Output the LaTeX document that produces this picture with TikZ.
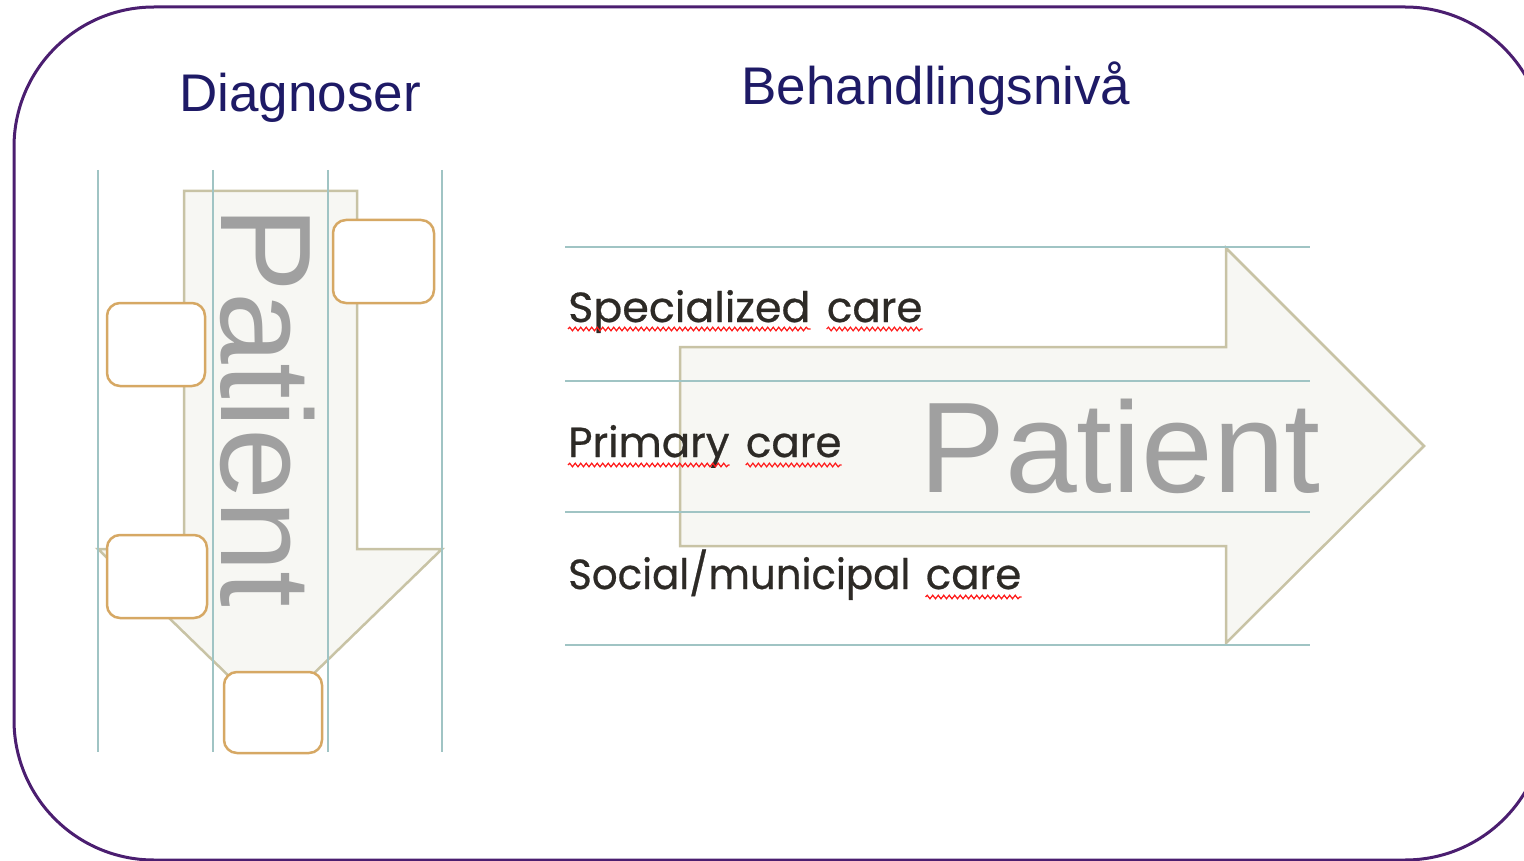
\documentclass[tikz,border=0pt]{standalone}
\usepackage{fontspec}
\setmainfont{Liberation Sans}
\newfontfamily\labelfont[FakeBold=0.6]{Poppins}
\usetikzlibrary{decorations.pathmorphing}
\definecolor{framec}{RGB}{75,30,112}
\definecolor{titlec}{RGB}{30,26,102}
\definecolor{gridc}{RGB}{160,196,196}
\definecolor{arrowfill}{RGB}{247,247,243}
\definecolor{arrowline}{RGB}{200,195,165}
\definecolor{boxc}{RGB}{214,168,100}
\definecolor{patientc}{RGB}{160,160,160}
\definecolor{labelc}{RGB}{45,42,38}
\tikzset{
  frameline/.style={draw=framec, line width=3pt, rounded corners=140pt},
  title/.style={text=titlec, font=\fontsize{53}{60}\selectfont, inner sep=0pt, anchor=base},
  gridline/.style={draw=gridc, line width=2pt},
  bigarrow/.style={draw=arrowline, fill=arrowfill, line width=2.5pt},
  slot/.style={draw=boxc, fill=white, line width=2.5pt, rounded corners=13pt, inner sep=0pt},
  patient/.style={text=patientc, font=\fontsize{129}{140}\selectfont, inner sep=0pt},
  level/.style={text=labelc, font=\labelfont\fontsize{42}{50}\selectfont, inner sep=0pt, anchor=base west},
  spell/.style={draw=red!90!white, line width=1.2pt, decorate, decoration={snake, amplitude=1.8pt, segment length=5.5pt}}
}
\begin{document}
\begin{tikzpicture}[x=1pt,y=-1pt]
\useasboundingbox (0,0) rectangle (1524,861);
\draw[frameline] (14,7) rectangle (1545,860);
% titles
\node[title] (diag) at (300,112) {Diagnoser};
\node[title] (beh) at (936,105) {Behandlingsniv\aa};
% left arrow
\draw[bigarrow] (184,191) -- (357,191) -- (357,549) -- (442,549) -- (270,716) -- (98,549) -- (184,549) -- cycle;
% right arrow
\draw[bigarrow] (680,347) -- (1226,347) -- (1226,248) -- (1424,446) -- (1226,643) -- (1226,546) -- (680,546) -- cycle;
% grid lines
\foreach \x in {98,213,328,442} \draw[gridline] (\x,170) -- (\x,752);
\foreach \y in {247,381,512,645} \draw[gridline] (565,\y) -- (1310,\y);
% Patient texts
\node[patient, rotate=-90, anchor=base west] (pl) at (221,206) {Patient};
\node[patient, anchor=base west] (pr) at (919,492) {Patient};
% boxes
\node[slot, minimum width=98pt, minimum height=83pt] (ba) at (156,344.5) {};
\node[slot, minimum width=100pt, minimum height=83pt] (bb) at (157,576.5) {};
\node[slot, minimum width=101pt, minimum height=83pt] (bc) at (383.5,261.5) {};
\node[slot, minimum width=98pt, minimum height=81pt] (bd) at (273,712.5) {};
% level labels
\node[level] (s1) at (568,322) {\scalebox{1.02}[1]{Specialized}};
\node[level, xshift=16pt] (s2) at (s1.base east) {care};
\node[level] (p1) at (568,457) {Primary};
\node[level, xshift=16pt] (p2) at (p1.base east) {care};
\node[level] (o1) at (568,589) {\scalebox{0.96}[1]{Social/municipal}};
\node[level, xshift=15pt] (o2) at (o1.base east) {care};
\draw[spell] ([yshift=-7pt]s1.base west) -- ([yshift=-7pt]s1.base east);
\draw[spell] ([yshift=-7pt]s2.base west) -- ([yshift=-7pt]s2.base east);
\draw[spell] ([yshift=-8pt]p1.base west) -- ([yshift=-8pt]p1.base east);
\draw[spell] ([yshift=-8pt]p2.base west) -- ([yshift=-8pt]p2.base east);
\draw[spell] ([yshift=-8pt]o2.base west) -- ([yshift=-8pt]o2.base east);
\end{tikzpicture}
\end{document}
